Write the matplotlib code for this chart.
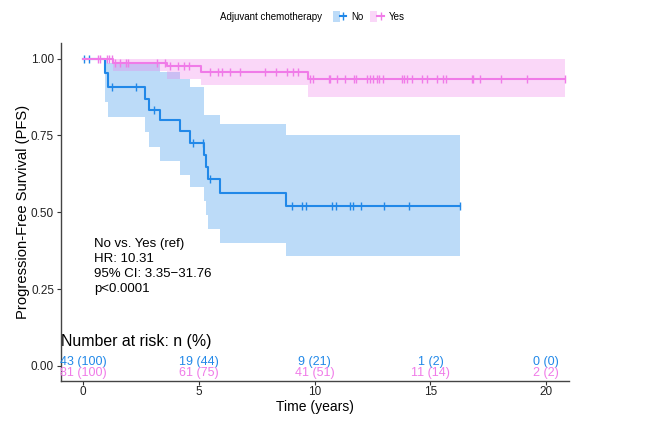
import matplotlib
matplotlib.use("Agg")
import matplotlib.pyplot as plt
from matplotlib.patches import Patch
from matplotlib.lines import Line2D
from matplotlib.legend_handler import HandlerTuple

plt.rcParams["font.family"] = ["Liberation Sans", "DejaVu Sans"]

BLUE = "#2188E8"
PINK = "#F07BE8"

# Kaplan-Meier steps (time in years)
no_time = [0, 0.95, 1.09, 2.68, 2.86, 3.32, 4.19, 4.62, 5.22, 5.31, 5.38, 5.92, 8.75, 16.29]
no_surv = [1.0, 0.953, 0.907, 0.870, 0.834, 0.799, 0.764, 0.725, 0.685, 0.647, 0.609, 0.562, 0.520, 0.520]
no_upper = [1.0, 1.0, 0.985, 0.985, 0.985, 0.957, 0.935, 0.907, 0.818, 0.818, 0.818, 0.786, 0.752, 0.752]
no_lower = [1.0, 0.859, 0.810, 0.761, 0.714, 0.666, 0.623, 0.582, 0.538, 0.490, 0.446, 0.400, 0.357, 0.357]
no_censor = [0.05, 0.25, 1.24, 2.29, 3.08, 4.74, 5.17, 5.48, 9.04, 9.47, 9.61, 10.76, 10.91,
             11.51, 11.65, 12.01, 12.99, 14.07, 16.29]

yes_time = [0, 1.28, 3.61, 5.08, 9.73, 20.82]
yes_surv = [1.0, 0.986, 0.975, 0.957, 0.935, 0.935]
yes_upper = [1.0, 1.0, 1.0, 1.0, 1.0, 1.0]
yes_lower = [1.0, 0.960, 0.935, 0.913, 0.875, 0.875]
yes_censor = [0.66, 0.73, 1.02, 1.14, 1.24, 1.38, 1.60, 1.84, 1.96, 3.18, 3.54, 3.76, 4.12, 4.36,
              4.58, 5.48, 5.84, 5.99, 6.35, 6.78, 7.86, 8.33, 8.80, 9.06, 9.30, 9.81, 9.92, 10.60,
              10.67, 10.96, 11.32, 11.71, 11.79, 12.28, 12.40, 12.54, 12.69, 12.79, 12.93, 13.77,
              13.86, 13.98, 14.20, 14.63, 14.84, 15.28, 15.56, 15.67, 16.79, 16.83, 17.12, 18.06,
              19.17, 20.82]

risk_times = [0, 5, 10, 15, 20]
no_risk = ["43 (100)", "19 (44)", "9 (21)", "1 (2)", "0 (0)"]
yes_risk = ["81 (100)", "61 (75)", "41 (51)", "11 (14)", "2 (2)"]

annot_lines = ["No vs. Yes (ref)", "HR: 10.31", "95% CI: 3.35\u221231.76", "p<0.0001"]


def surv_at(times, surv, t):
    val = surv[0]
    for tt, s in zip(times, surv):
        if tt <= t:
            val = s
    return val


fig = plt.figure(figsize=(6.46, 4.28), dpi=100)
ax = fig.add_axes([61 / 646, 47.3 / 428, 508 / 646, 337.4 / 428])

for times, surv, lo, hi, cens, col in [
    (no_time, no_surv, no_lower, no_upper, no_censor, BLUE),
    (yes_time, yes_surv, yes_lower, yes_upper, yes_censor, PINK),
]:
    ax.fill_between(times, lo, hi, step="post", color=col, alpha=0.3, lw=0)
    ax.step(times, surv, where="post", color=col, lw=1.5)
    ax.plot(cens, [surv_at(times, surv, c) for c in cens], ls="none", marker="|",
            ms=6, mew=1.0, color=col)

ax.set_xlim(-0.95, 20.98)
ax.set_ylim(-0.048, 1.05)
ax.set_xticks(risk_times)
ax.set_yticks([0, 0.25, 0.5, 0.75, 1.0])
ax.set_yticklabels(["0.00", "0.25", "0.50", "0.75", "1.00"])
ax.tick_params(labelsize=8.5, length=3, width=0.8, color="#333333", labelcolor="#222222", pad=2)
ax.tick_params(axis="x", pad=1)
for side in ["top", "right"]:
    ax.spines[side].set_visible(False)
for side in ["left", "bottom"]:
    ax.spines[side].set_color("#444444")
    ax.spines[side].set_linewidth(1.0)

ax.set_xlabel("Time (years)", fontsize=10, labelpad=1)
ax.set_ylabel("Progression-Free Survival (PFS)", fontsize=10.6, labelpad=1)

# number at risk rows
ax.text(-0.93, 0.08, "Number at risk: n (%)", fontsize=11.4, va="center", ha="left")
for t, a, b in zip(risk_times, no_risk, yes_risk):
    ax.text(t, 0.012, a, color=BLUE, fontsize=9, ha="center", va="center")
    ax.text(t, -0.022, b, color=PINK, fontsize=9, ha="center", va="center")

# hazard ratio annotation
for i, line in enumerate(annot_lines):
    ax.annotate(line, (0.475, 0.396), xytext=(0, -10.7 * i), textcoords="offset points",
                fontsize=9.5, ha="left", va="center")

# legend on top
fig.text(220 / 646, 1 - 16.7 / 428, "Adjuvant chemotherapy", fontsize=7, va="center", ha="left")
handles = [
    (Patch(facecolor=BLUE, alpha=0.3, lw=0), Line2D([], [], color=BLUE, lw=1.5, marker="|", ms=6)),
    (Patch(facecolor=PINK, alpha=0.3, lw=0), Line2D([], [], color=PINK, lw=1.5, marker="|", ms=6)),
]
fig.legend(handles, ["No", "Yes"], ncol=2, frameon=False, fontsize=7,
           handler_map={tuple: HandlerTuple(ndivide=None, pad=0)},
           loc="center left", bbox_to_anchor=(326 / 646, 1 - 16.7 / 428),
           handlelength=1.4, handleheight=1.4, handletextpad=0.5, columnspacing=0.7,
           borderpad=0.2)

fig.savefig("out.png", dpi=100)
